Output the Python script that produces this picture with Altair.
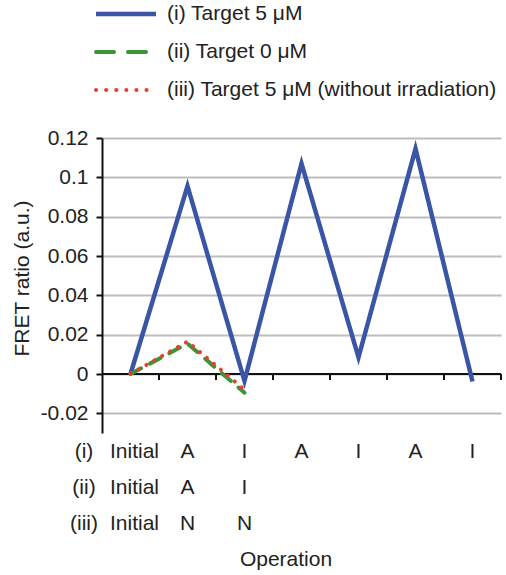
import altair as alt
import pandas as pd

# ---- data ----
ops_i = ["Initial", "A", "I", "A", "I", "A", "I"]
ops_ii = ["Initial", "A", "I"]
ops_iii = ["Initial", "N", "N"]
vals_i = [0.0, 0.0955, -0.0035, 0.107, 0.0085, 0.1145, -0.0038]
vals_ii = [0.0, 0.0155, -0.0095]
vals_iii = [0.0, 0.0165, -0.008]
series_labels = ["(i) Target 5 μM", "(ii) Target 0 μM", "(iii) Target 5 μM (without irradiation)"]
row_labels = ["(i)", "(ii)", "(iii)"]
y_ticks = [-0.02, 0.0, 0.02, 0.04, 0.06, 0.08, 0.1, 0.12]
boundaries = [0.5, 1.5, 2.5, 3.5, 4.5, 5.5, 6.5]

FONT = "Liberation Sans"
FS = 21
TXT = "#222222"
COLORS = ["#3a55a6", "#3a9438", "#e8402a"]

W, H = 399, 295
xscale = alt.Scale(domain=[-0.5, 6.5], nice=False, zero=False)
yscale = alt.Scale(domain=[-0.03, 0.12], nice=False, zero=False)

def series_df(vals):
    return pd.DataFrame({"x": list(range(len(vals))), "v": vals})

# base with y axis + grid
base_y = alt.Chart(pd.DataFrame({"x": [0], "v": [0.0]})).mark_point(opacity=0).encode(
    x=alt.X("x:Q", scale=xscale, axis=None),
    y=alt.Y("v:Q", scale=yscale, axis=alt.Axis(
        values=y_ticks,
        labelExpr="datum.value < 0 ? '-' + format(-datum.value, '.2~f') : format(datum.value, '.2~f')",
        labelFont=FONT, labelFontSize=FS, labelColor=TXT, labelPadding=8,
        tickSize=6, tickColor="#111111", tickWidth=2,
        domainColor="#111111", domainWidth=2,
        grid=True, gridColor="#bdbdbd", gridWidth=2,
        title="FRET ratio (a.u.)", titleFont=FONT, titleFontSize=FS, titleFontWeight="normal",
        titleColor=TXT, titleAngle=270, titleAlign="center", titleBaseline="middle",
        titleX=-80, titleY=140,
    )),
)

# zero line
zero = alt.Chart(pd.DataFrame({"x": [-0.5], "x2": [6.5], "v": [0.0]})).mark_rule(
    color="#111111", strokeWidth=2
).encode(x=alt.X("x:Q", scale=xscale), x2="x2:Q", y=alt.Y("v:Q", scale=yscale))

zero_ticks = alt.Chart(pd.DataFrame({"x": boundaries, "v": [0.0] * len(boundaries)})).mark_rule(
    color="#111111", strokeWidth=2
).encode(x=alt.X("x:Q", scale=xscale), y=alt.Y("v:Q", scale=yscale), y2=alt.value(242))

line_i = alt.Chart(series_df(vals_i)).mark_line(
    color=COLORS[0], strokeWidth=4.5, strokeJoin="miter"
).encode(x=alt.X("x:Q", scale=xscale), y=alt.Y("v:Q", scale=yscale))
line_ii = alt.Chart(series_df(vals_ii)).mark_line(
    color=COLORS[1], strokeWidth=4, strokeDash=[12, 10], strokeCap="round"
).encode(x=alt.X("x:Q", scale=xscale), y=alt.Y("v:Q", scale=yscale))
line_iii = alt.Chart(series_df(vals_iii)).mark_line(
    color=COLORS[2], strokeWidth=4, strokeDash=[0.1, 9], strokeCap="round"
).encode(x=alt.X("x:Q", scale=xscale), y=alt.Y("v:Q", scale=yscale))

# x category label rows
row_y = [314, 350, 386]
layers = [base_y, zero, zero_ticks, line_i, line_ii, line_iii]
for ops, ry, rl in zip([ops_i, ops_ii, ops_iii], row_y, row_labels):
    df = pd.DataFrame({"x": list(range(len(ops))), "t": ops})
    df["dx"] = [4 if t == "Initial" else 0 for t in ops]
    for off in sorted(set(df["dx"])):
        sub = df[df["dx"] == off]
        layers.append(alt.Chart(sub).mark_text(
            font=FONT, fontSize=FS, color=TXT, baseline="middle", align="center", dx=off
        ).encode(x=alt.X("x:Q", scale=xscale), y=alt.value(ry), text="t:N"))
    layers.append(alt.Chart(pd.DataFrame({"t": [rl]})).mark_text(
        font=FONT, fontSize=FS, color=TXT, baseline="middle", align="center"
    ).encode(x=alt.value(-18), y=alt.value(ry), text="t:N"))

layers.append(alt.Chart(pd.DataFrame({"t": ["Operation"]})).mark_text(
    font=FONT, fontSize=FS, color=TXT, baseline="middle", align="center"
).encode(x=alt.value(184), y=alt.value(422), text="t:N"))

# legend
leg_y = [-124, -86, -48]
styles = [
    dict(strokeWidth=4.5),
    dict(strokeWidth=4, strokeDash=[18, 14], strokeCap="round"),
    dict(strokeWidth=4, strokeDash=[0.1, 10], strokeCap="round"),
]
for lab, ly, col, st in zip(series_labels, leg_y, COLORS, styles):
    layers.append(alt.Chart(pd.DataFrame({"t": [lab]})).mark_rule(color=col, **st).encode(
        x=alt.value(-6), x2=alt.value(54), y=alt.value(ly)))
    layers.append(alt.Chart(pd.DataFrame({"t": [lab]})).mark_text(
        font=FONT, fontSize=FS, color=TXT, baseline="middle", align="left"
    ).encode(x=alt.value(65), y=alt.value(ly), text="t:N"))

chart = alt.layer(*layers).properties(
    width=W, height=H,
    padding={"left": 102, "top": 138, "right": 5, "bottom": 142},
    autosize=alt.AutoSizeParams(type="none"),
    background="white",
).configure_view(stroke=None)

chart.save("out.html", embed_options={"renderer": "svg", "actions": False})
